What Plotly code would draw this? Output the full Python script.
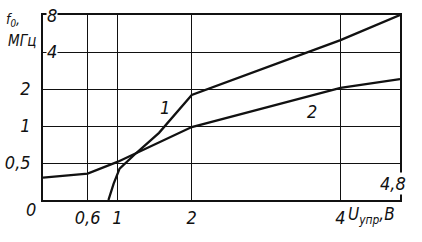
import math
import plotly.graph_objects as go

# ---- data ----
u_curve1 = [0.88, 0.95, 1.03, 1.25, 1.56, 2.0, 4.0, 4.8]
f_curve1 = [0.25, 0.34, 0.45, 0.60, 0.88, 1.79, 5.0, 8.0]
u_curve2 = [0.0, 0.6, 1.0, 1.25, 2.0, 4.0, 4.8]
f_curve2 = [0.38, 0.41, 0.51, 0.60, 0.98, 2.04, 2.41]

x_ticks = [0.6, 1, 2, 4]
x_ticklabels = ["0,6", "1", "2", "4"]
x_extra_grid = [4.8]
y_ticks = [0.5, 1, 2]
y_ticklabels = ["0,5", "1", "2"]
y_extra_grid = [4, 8]
y_bottom = 0.25   # the "0" level of the broken log axis

FONT = "Liberation Sans Narrow, DejaVu Sans Condensed, Liberation Sans, Arial"
INK = "#111111"

fig = go.Figure()
for xs, ys in [(u_curve1, f_curve1), (u_curve2, f_curve2)]:
    fig.add_trace(go.Scatter(x=xs, y=ys, mode="lines",
                             line=dict(color=INK, width=2.3),
                             showlegend=False, hoverinfo="skip"))

tickfont = dict(family=FONT, size=18, color=INK, style="italic")
grid = dict(showgrid=True, gridcolor=INK, gridwidth=1.4)

fig.update_layout(
    width=422, height=242,
    margin=dict(l=43, r=22, t=15, b=42),
    paper_bgcolor="white", plot_bgcolor="white",
    xaxis=dict(range=[0, 4.8], tickvals=x_ticks, ticktext=x_ticklabels,
               minor=dict(tickvals=x_extra_grid, ticks="", **grid),
               automargin=False, zeroline=False, showline=True,
               linecolor=INK, linewidth=1.6, mirror=True, ticks="",
               tickfont=tickfont, ticklabelstandoff=1, **grid),
    yaxis=dict(type="log", range=[math.log10(y_bottom), math.log10(8)],
               tickvals=y_ticks, ticktext=y_ticklabels,
               minor=dict(tickvals=y_extra_grid, ticks="", **grid),
               automargin=False, zeroline=False, showline=True,
               linecolor=INK, linewidth=1.6, mirror=True, ticks="",
               tickfont=tickfont, ticklabelstandoff=7, **grid),
)


def ann(text, x, y, size=18, bg=None, xanchor="center", yanchor="middle"):
    fig.add_annotation(text=text, x=x, y=y, xref="paper", yref="paper",
                       showarrow=False,
                       font=dict(family=FONT, size=size, color=INK, style="italic"),
                       bgcolor=bg, xanchor=xanchor, yanchor=yanchor, borderpad=0)


# inside-axis labels for 8 and 4
ann("8", 0.025, 1.0, bg="white")
ann("4", 0.025, 0.80, bg="white")
# corner zero
ann("0", -0.034, -0.05)
# 4,8 label at right end
ann("4,8", 0.98, 0.09, bg="white")
# curve numbers
ann("1", 0.342, 0.50)
ann("2", 0.753, 0.476)
# axis titles
ann("f<sub>0</sub>,", -0.083, 0.918, size=14, yanchor="bottom")
ann("МГц", -0.059, 0.916, size=15, yanchor="top")
ann("U<sub>упр</sub>,В", 0.851, -0.085, size=17, xanchor="left")

fig.write_html("out.html")
